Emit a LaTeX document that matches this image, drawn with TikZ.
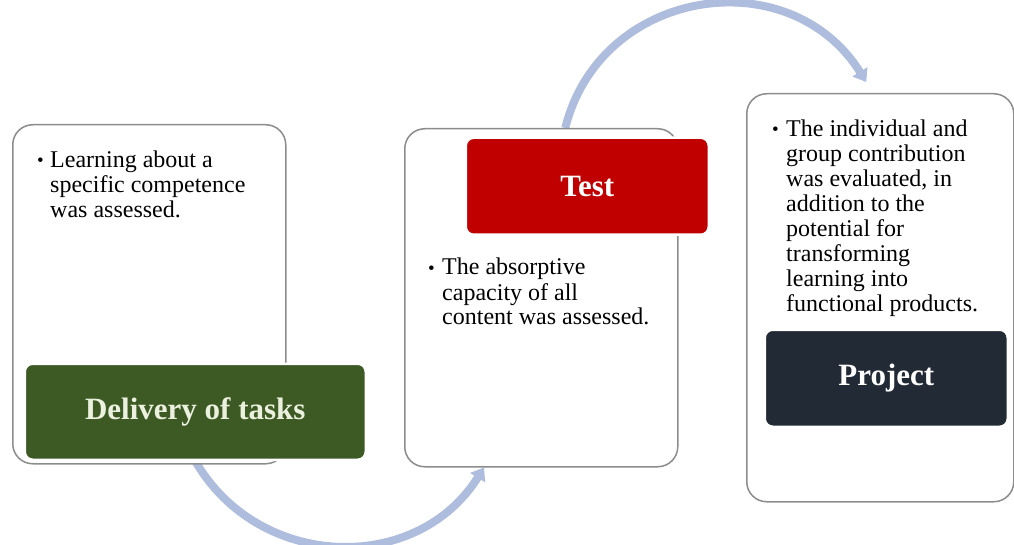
\documentclass[tikz,border=0pt]{standalone}
\usepackage{fontspec}
\setmainfont{Liberation Serif}
\usetikzlibrary{arrows.meta,backgrounds,calc}
\definecolor{boxgray}{HTML}{8C8C8C}
\definecolor{taskgreen}{HTML}{3D5A24}
\definecolor{testred}{HTML}{C00000}
\definecolor{projdark}{HTML}{222A35}
\definecolor{arcblue}{HTML}{AEBCDD}
\definecolor{lighttext}{HTML}{EBF1DE}
\newcommand{\bulmark}[1]{\makebox[#1][l]{\raisebox{1pt}{\fontsize{19}{19}\selectfont\textbullet}}}
\tikzset{
  panel/.style={draw=boxgray, line width=1.5pt, fill=white, rounded corners=20pt,
    anchor=north west, inner sep=0pt},
  headbox/.style={draw=white, line width=2.5pt, rounded corners=8pt, anchor=north west,
    inner sep=0pt, font=\fontsize{31}{31}\selectfont\bfseries, text=white},
  bullettext/.style={anchor=base west, inner sep=0pt, font=\fontsize{24}{25}\selectfont, text=black},
  flow/.style={draw=arcblue, line width=8pt, -{Triangle[width=17pt,length=12pt]}}
}
\begin{document}
\begin{tikzpicture}[x=1pt,y=1pt]
\useasboundingbox (0,0) rectangle (1014,-545);
% panels
\node[panel, minimum width=273pt, minimum height=339pt] (box1) at (12,-124) {};
\node[panel, minimum width=273pt, minimum height=338pt] (box2) at (404,-128) {};
\node[panel, minimum width=267pt, minimum height=408pt] (box3) at (746,-93) {};
% heading boxes
\node[headbox, fill=taskgreen, text=lighttext, minimum width=341pt, minimum height=96pt] (task) at (23.5,-362.5) {Delivery of tasks};
\node[headbox, fill=testred, minimum width=243pt, minimum height=97pt] (test) at (464.5,-136.5) {Test};
\node[headbox, fill=projdark, minimum width=243pt, minimum height=97pt] (proj) at (763.5,-328.5) {Project};
% bullet texts
\node[bullettext] (txt1) at (37,-168) {\begin{tabular}[t]{@{}l@{}l@{}}\bulmark{13pt} & Learning about a\\ & specific competence\\ & was assessed.\end{tabular}};
\node[bullettext] (txt2) at (428,-275) {\begin{tabular}[t]{@{}l@{}l@{}}\bulmark{14pt} & The absorptive\\ & capacity of all\\ & content was assessed.\end{tabular}};
\node[bullettext] (txt3) at (772,-137) {\begin{tabular}[t]{@{}l@{}l@{}}\bulmark{14pt} & The individual and\\ & group contribution\\ & was evaluated, in\\ & addition to the\\ & potential for\\ & transforming\\ & learning into\\ & functional products.\end{tabular}};
% connector end points
\coordinate (lowend) at ($(box2.south west)+(80,0)$);
\coordinate (upstart) at ($(box2.north)+(24,0)$);
\coordinate (upend) at ($(box3.north)+(-14,11)$);
\begin{pgfonlayer}{background}
\draw[flow] (task.south) to[out=-60, in=-122, looseness=1.12] (lowend);
\draw[flow] (upstart) to[out=76, in=122, looseness=1.22] (upend);
\end{pgfonlayer}
\end{tikzpicture}
\end{document}
